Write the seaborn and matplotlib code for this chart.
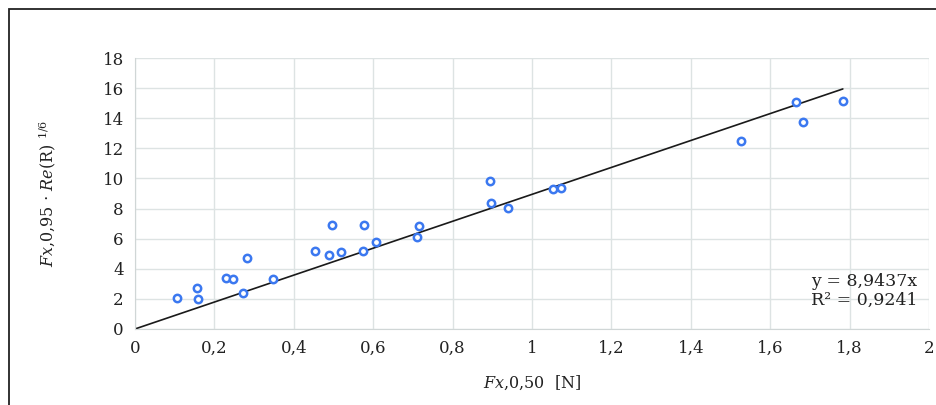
import numpy as np
import matplotlib
matplotlib.use("Agg")
import matplotlib.pyplot as plt
import seaborn as sns

# F_x,0,50 [N] and F_x,0,95 * Re(R)^(1/6)
fx50 = [0.106, 0.156, 0.159, 0.229, 0.247, 0.272, 0.282, 0.348, 0.453, 0.489,
        0.496, 0.519, 0.577, 0.574, 0.607, 0.710, 0.715, 0.894, 0.897, 0.940,
        1.053, 1.073, 1.526, 1.665, 1.683, 1.783]
fx95 = [2.06, 2.72, 2.00, 3.39, 3.32, 2.39, 4.71, 3.32, 5.18, 4.91,
        6.90, 5.11, 6.90, 5.18, 5.78, 6.10, 6.84, 9.83, 8.37, 8.03,
        9.30, 9.36, 12.48, 15.07, 13.75, 15.14]
slope = 8.9437
r2 = 0.9241
xticks = [0, 0.2, 0.4, 0.6, 0.8, 1, 1.2, 1.4, 1.6, 1.8, 2]
yticks = [0, 2, 4, 6, 8, 10, 12, 14, 16, 18]

sns.set_style("white")
plt.rcParams["font.family"] = ["DejaVu Serif"]
plt.rcParams["mathtext.fontset"] = "dejavuserif"

fig = plt.figure(figsize=(9.36, 4.05), dpi=100)
ax = fig.add_axes([0.1442, 0.1877, 0.8483, 0.669])

# chart border (top and left visible)
fig.add_artist(plt.Rectangle((9 / 936, -0.05), 1.1, 1 - 9 / 405 + 0.05,
                             transform=fig.transFigure, fill=False,
                             edgecolor="#222222", linewidth=1.3))

trend_x = np.array([0, max(fx50)])
sns.lineplot(x=trend_x, y=slope * trend_x, ax=ax, color="#1a1a1a", linewidth=1.2)
sns.scatterplot(x=fx50, y=fx95, ax=ax, marker="o", s=28, facecolor="white",
                edgecolor="#3b78f0", linewidth=1.8, zorder=3)

ax.set_xlim(0, 2)
ax.set_ylim(0, 18)
ax.set_xticks(xticks)
ax.set_yticks(yticks)
ax.set_xticklabels([f"{t:g}".replace(".", ",") for t in xticks])
ax.set_yticklabels([str(t) for t in yticks])
ax.tick_params(length=0, labelsize=12, colors="#222222", pad=8)
ax.grid(True, color="#dde3e3", linewidth=1)
ax.set_axisbelow(True)
for side in ["top", "right"]:
    ax.spines[side].set_visible(False)
for side in ["left", "bottom"]:
    ax.spines[side].set_color("#d0d6d6")

ax.set_xlabel(r"$\mathit{Fx{,}0{,}50}$  [N]", fontsize=11.5, color="#222222", labelpad=12)
ax.set_ylabel(r"$\mathit{Fx{,}0{,}95}$ $\cdot$ $\mathit{Re}$(R) $^{\mathit{1/6}}$",
              fontsize=11.5, color="#222222", labelpad=32)

ax.text(0.985, 0.175, f"y = {slope:.4f}x".replace(".", ","), transform=ax.transAxes,
        ha="right", va="center", fontsize=12.5, color="#222222")
ax.text(0.985, 0.105, f"R² = {r2:.4f}".replace(".", ","), transform=ax.transAxes,
        ha="right", va="center", fontsize=12.5, color="#222222")

fig.savefig("out.png", dpi=100)
